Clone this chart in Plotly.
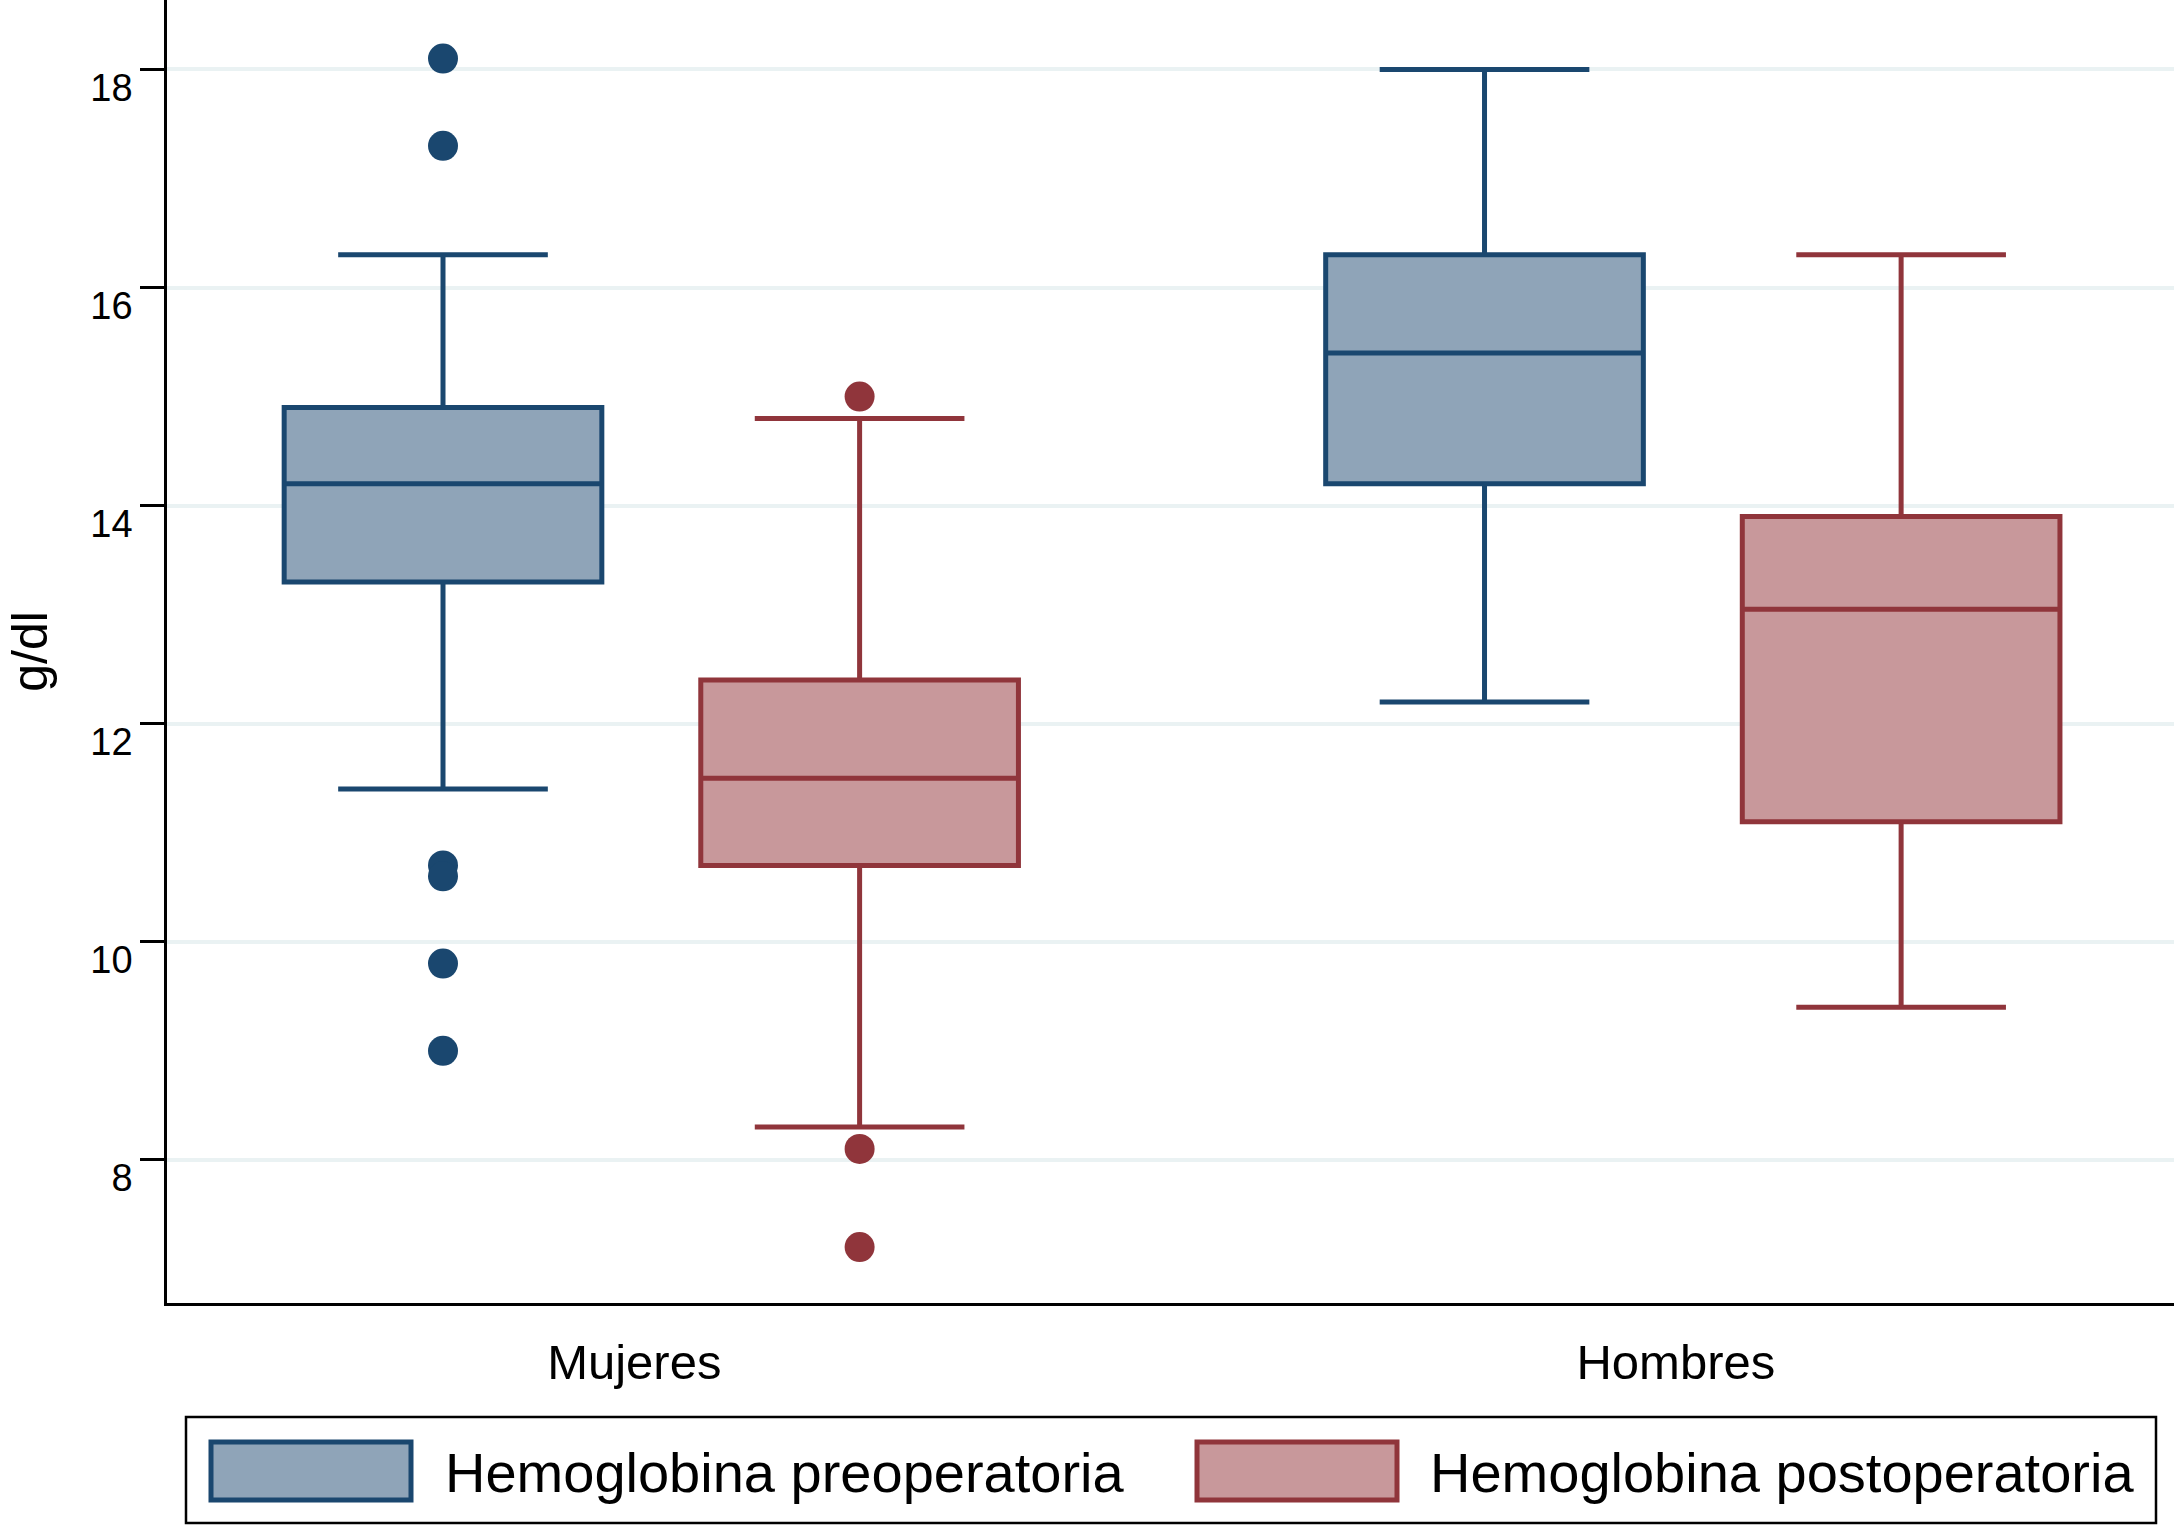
import plotly.graph_objects as go

# data (g/dl)
groups = ["Mujeres", "Hombres"]
series = ["Hemoglobina preoperatoria", "Hemoglobina postoperatoria"]

pre_lower = [11.4, 12.2]
pre_q1 = [13.3, 14.2]
pre_median = [14.2, 15.4]
pre_q3 = [14.9, 16.3]
pre_upper = [16.3, 18.0]
pre_outliers = [[18.1, 17.3, 10.7, 10.6, 9.8, 9.0], []]

post_lower = [8.3, 9.4]
post_q1 = [10.7, 11.1]
post_median = [11.5, 13.05]
post_q3 = [12.4, 13.9]
post_upper = [14.8, 16.3]
post_outliers = [[15.0, 8.1, 7.2], []]

y_ticks = [8, 10, 12, 14, 16, 18]

W, H = 2178, 1526
L, R, T, B = 167, 2174, 0, 1303  # plot area in pixels
FONT = "Liberation Sans, Arial, Helvetica, sans-serif"

navy, navy_fill = "#1a476f", "#8fa4b8"
maroon, maroon_fill = "#90353b", "#c8989b"


def px_x(p):
    return (p - L) / (R - L)


def px_y(p):
    return (B - p) / (B - T)


fig = go.Figure()

specs = [
    (-0.2, pre_lower, pre_q1, pre_median, pre_q3, pre_upper, pre_outliers, navy, navy_fill),
    (0.2, post_lower, post_q1, post_median, post_q3, post_upper, post_outliers, maroon, maroon_fill),
]
for k, (off, lo, q1, med, q3, up, outl, col, fill) in enumerate(specs):
    xs = [i + off for i in range(len(groups))]
    fig.add_trace(go.Box(x=xs, lowerfence=lo, q1=q1, median=med, q3=q3, upperfence=up,
                         name=series[k], width=0.305, whiskerwidth=0.66,
                         line=dict(color=col, width=5), fillcolor=fill,
                         boxpoints=False, showlegend=False, hoverinfo="skip"))
    ox, oy = [], []
    for i, vals in enumerate(outl):
        ox += [i + off] * len(vals)
        oy += vals
    fig.add_trace(go.Scatter(x=ox, y=oy, mode="markers", showlegend=False,
                             marker=dict(color=col, size=30, line=dict(width=0))))

fig.update_layout(
    width=W, height=H, margin=dict(l=L, r=W - R, t=T, b=H - B),
    plot_bgcolor="white", paper_bgcolor="white",
    font=dict(family=FONT, color="black"),
    boxmode="overlay",
)
fig.update_xaxes(range=[-0.465, 1.462], tickvals=[0, 1], ticktext=groups,
                 showgrid=False, zeroline=False, ticks="",
                 showline=True, linecolor="black", linewidth=2.5,
                 tickfont=dict(size=49), ticklabelstandoff=14, ticklabelshift=-17)
fig.update_yaxes(range=[6.687, 18.637], tickvals=y_ticks,
                 showgrid=True, gridcolor="#eaf2f3", gridwidth=3.5, zeroline=False,
                 showline=True, linecolor="black", linewidth=2.5,
                 ticks="outside", ticklen=24, tickwidth=2.5, tickcolor="black",
                 tickfont=dict(size=38), ticklabelstandoff=0, ticklabelshift=18,
                 title=dict(text="g/dl", font=dict(size=50), standoff=27))

# legend drawn as a framed key below the plot
fig.add_shape(type="rect", xref="paper", yref="paper",
              x0=px_x(186), x1=px_x(2156), y0=px_y(1417), y1=px_y(1523),
              line=dict(color="black", width=2.5), fillcolor="white")
for k, (sx, tx, col, fill) in enumerate([(211, 443, navy, navy_fill), (1197, 1428, maroon, maroon_fill)]):
    fig.add_shape(type="rect", xref="paper", yref="paper",
                  x0=px_x(sx), x1=px_x(sx + 200), y0=px_y(1442), y1=px_y(1500),
                  line=dict(color=col, width=5), fillcolor=fill)
    fig.add_annotation(xref="paper", yref="paper", x=px_x(tx), y=px_y(1472),
                       xanchor="left", yanchor="middle", showarrow=False,
                       text=series[k], font=dict(size=56, color="black"))

fig.write_html("out.html", config={"displayModeBar": False},
               post_script="document.body.style.margin='0px';")
